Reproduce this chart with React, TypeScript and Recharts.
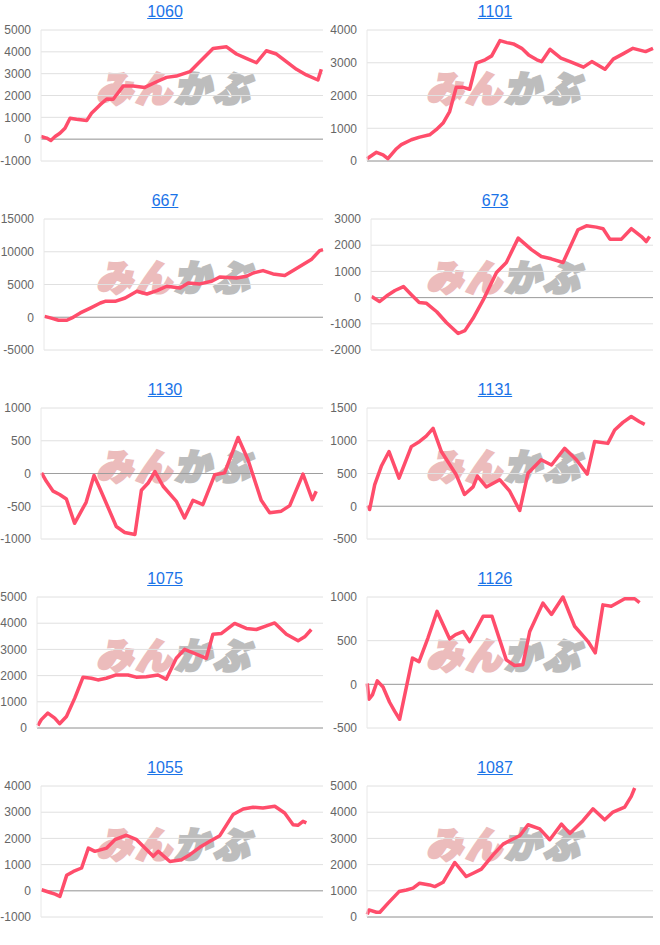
import React from 'react';
import { LineChart, Line, XAxis, YAxis, CartesianGrid, ReferenceLine } from 'recharts';

// session position (0-100) and cumulative value for each code
const X_1060 = [0, 2, 3.5, 5, 6.7, 8.5, 10.3, 12.6, 16.2, 17.9, 20.9, 23.3, 25.6, 29.2, 32.7, 36.8, 41, 44.5, 48, 52.8, 56.3, 61, 65.8, 69.3, 72.8, 76.4, 79.9, 83.5, 87, 90.6, 94.1, 98.2, 99.4];
const Y_1060 = [120, 50, -60, 120, 270, 500, 960, 910, 850, 1190, 1570, 1840, 1830, 2440, 2440, 2370, 2630, 2830, 2890, 3090, 3550, 4150, 4230, 3900, 3700, 3500, 4050, 3900, 3550, 3200, 2940, 2710, 3200];

const X_1101 = [0, 3.3, 5.6, 7.3, 10.3, 12, 15.5, 18.4, 21.9, 24.2, 26.6, 28.9, 31.2, 33.6, 35.9, 38.2, 41.3, 43.6, 46.5, 48.9, 51.2, 54.1, 56.5, 59.4, 61.1, 64, 67.8, 71, 75.7, 78.6, 83.2, 86.1, 89.5, 93, 97.4, 100];
const Y_1101 = [70, 265, 190, 70, 375, 500, 650, 730, 800, 955, 1160, 1510, 2250, 2250, 2190, 2985, 3090, 3210, 3675, 3615, 3575, 3440, 3240, 3090, 3035, 3410, 3140, 3035, 2865, 3035, 2800, 3110, 3270, 3440, 3340, 3440];

const X_667 = [0.2, 2.3, 5.2, 8.2, 10, 13, 16.6, 20.2, 21.9, 25.5, 29.1, 33.3, 36.9, 40.5, 44, 48.8, 51.7, 55.9, 60.1, 63, 69, 72.6, 75, 78.5, 82.1, 86.3, 89.3, 95.8, 98.8, 100];
const Y_667 = [140, -100, -460, -460, -100, 660, 1400, 2180, 2430, 2430, 2940, 3960, 3550, 4060, 4730, 4470, 5230, 5090, 5490, 6150, 6000, 6260, 6760, 7120, 6610, 6360, 7120, 8800, 10180, 10330];

const X_673 = [0.2, 3, 5.5, 8.5, 11.5, 14.4, 17.1, 19.7, 23.3, 26.8, 30.9, 33.3, 36.2, 39.8, 44.5, 48, 52.2, 56.9, 60.4, 63.9, 68.1, 73.4, 76.4, 79.9, 82.3, 84.7, 88.8, 92.3, 95.9, 97.6, 98.8];
const Y_673 = [40, -150, 60, 270, 420, 100, -190, -220, -540, -960, -1370, -1260, -790, -90, 960, 1340, 2270, 1830, 1570, 1480, 1340, 2590, 2740, 2690, 2630, 2230, 2230, 2630, 2330, 2140, 2330];

const X_1130 = [0.2, 1.9, 4.3, 6.6, 9, 11.9, 16, 18.8, 20.8, 23.8, 26.7, 29.7, 33.3, 35.6, 38, 40.4, 43.3, 48, 50.9, 53.9, 57.4, 61.6, 65.1, 69.9, 73.4, 78.1, 81.1, 85.2, 88.2, 92.9, 96.2, 97.6];
const Y_1130 = [10, -120, -270, -320, -390, -760, -440, -30, -220, -520, -810, -900, -930, -255, -145, 30, -195, -425, -680, -410, -475, -20, 10, 550, 210, -410, -600, -575, -490, -10, -400, -270];

const X_1131 = [0.3, 0.9, 2.7, 5, 7.7, 11.2, 15.5, 18.4, 20.7, 23.1, 26, 31.2, 34.1, 37.1, 38.6, 41.7, 46.4, 49.9, 53.4, 56.3, 60.9, 64.5, 69.1, 73.2, 77, 79.6, 84.2, 86.6, 89.5, 92.4, 95.3, 97.1];
const Y_1131 = [10, -50, 330, 610, 835, 430, 910, 990, 1070, 1190, 835, 480, 180, 295, 460, 295, 405, 230, -65, 505, 710, 630, 885, 710, 490, 990, 960, 1165, 1280, 1370, 1290, 1250];

const X_1075 = [0.3, 1.5, 3.8, 6.2, 7.9, 10.3, 13.2, 16.1, 19, 21.3, 24.2, 27.7, 31.8, 34.7, 38.2, 42.3, 45.2, 48.7, 51.6, 55.7, 59.2, 61.5, 64.5, 69.1, 73.2, 76.7, 80.2, 83.1, 87.2, 91.3, 93.6, 95.9];
const Y_1075 = [90, 320, 570, 380, 165, 440, 1140, 1940, 1900, 1835, 1900, 2025, 2025, 1940, 1960, 2025, 1860, 2660, 3000, 2820, 2660, 3580, 3610, 3990, 3800, 3760, 3900, 4010, 3580, 3330, 3480, 3760];

const X_1126 = [0.1, 0.7, 1.9, 3.6, 5.6, 7.9, 9.7, 11.4, 13.8, 15.9, 18.2, 21.3, 24.5, 28.9, 31, 33.6, 35.9, 40.6, 43.7, 48.7, 51.6, 54.5, 56.9, 61.5, 64.5, 68.5, 72.6, 77.3, 79.8, 82.5, 85.4, 90.1, 93.6, 95.3];
const Y_1126 = [10, -170, -120, 40, -30, -205, -310, -400, -25, 300, 260, 530, 835, 520, 570, 605, 490, 780, 780, 280, 215, 225, 605, 930, 800, 1000, 665, 490, 360, 910, 895, 980, 980, 935];

const X_1055 = [0.2, 3.2, 5, 6.7, 9.1, 11.5, 14.4, 16.8, 19.1, 23.3, 26.2, 30.3, 33.9, 39.8, 41.6, 45.7, 49.8, 52.8, 56.3, 59.9, 63.4, 68.1, 71.7, 75.2, 78.7, 82.9, 86.4, 89.4, 91.1, 92.9, 94.1];
const Y_1055 = [40, -65, -130, -215, 590, 740, 870, 1630, 1505, 1630, 1950, 2120, 1950, 1315, 1505, 1120, 1185, 1380, 1660, 1890, 2105, 2910, 3125, 3190, 3160, 3225, 2970, 2520, 2500, 2650, 2590];

const X_1087 = [0.1, 0.7, 3.3, 4.5, 7.3, 11.2, 13.8, 16.1, 18.4, 21.9, 23.7, 26.6, 30.7, 34.7, 37.1, 40, 44.1, 47.6, 50.5, 53.4, 56.3, 60.4, 63.9, 68, 70.9, 75.5, 79, 83.1, 86, 90.1, 92.4, 93.6];
const Y_1087 = [100, 270, 180, 180, 520, 970, 1030, 1100, 1290, 1225, 1160, 1325, 2080, 1545, 1670, 1825, 2370, 2780, 2950, 3100, 3520, 3365, 2950, 3545, 3190, 3675, 4130, 3710, 4005, 4195, 4605, 4925];

const TITLES = ['1060', '1101', '667', '673', '1130', '1131', '1075', '1126', '1055', '1087'];
const XS = [X_1060, X_1101, X_667, X_673, X_1130, X_1131, X_1075, X_1126, X_1055, X_1087];
const YS = [Y_1060, Y_1101, Y_667, Y_673, Y_1130, Y_1131, Y_1075, Y_1126, Y_1055, Y_1087];
const TICKS = [
  [-1000, 0, 1000, 2000, 3000, 4000, 5000],
  [0, 1000, 2000, 3000, 4000],
  [-5000, 0, 5000, 10000, 15000],
  [-2000, -1000, 0, 1000, 2000, 3000],
  [-1000, -500, 0, 500, 1000],
  [-500, 0, 500, 1000, 1500],
  [0, 1000, 2000, 3000, 4000, 5000],
  [-500, 0, 500, 1000],
  [-1000, 0, 1000, 2000, 3000, 4000],
  [0, 1000, 2000, 3000, 4000, 5000],
];

const PANEL_W = 330;
const PANEL_H = 189;
const LINE_COLOR = '#ff4d6b';

// rough Arial 12px width of a tick label
const labelWidth = (n: number) => {
  const s = String(n);
  let w = 0;
  for (const c of s) w += c === '-' ? 4 : 6.67;
  return w;
};

const Panel: React.FC<{ idx: number }> = ({ idx }) => {
  const ticks = TICKS[idx];
  const data = XS[idx].map((x, i) => ({ x, v: YS[idx][i] }));
  const yWidth = Math.ceil(Math.max(...ticks.map(labelWidth))) + 10;

  return (
    <div style={{ position: 'relative', width: PANEL_W, height: PANEL_H }}>
      <div
        style={{
          position: 'absolute',
          top: 3,
          left: 0,
          width: PANEL_W,
          textAlign: 'center',
          fontFamily: 'Arial, "Liberation Sans", sans-serif',
          fontSize: 16,
          lineHeight: '18px',
          color: '#1a73e8',
          textDecoration: 'underline',
        }}
      >
        {TITLES[idx]}
      </div>
      {/* watermark logo */}
      <div
        style={{
          position: 'absolute',
          left: 100,
          top: 68,
          width: 160,
          height: 36,
          fontFamily: '"Noto Sans CJK JP", sans-serif',
          fontWeight: 900,
          fontSize: 36,
          lineHeight: '36px',
          letterSpacing: 3,
          whiteSpace: 'nowrap',
          transform: 'skewX(-12deg)',
        }}
      >
        <span style={{ color: '#ecbcbc', WebkitTextStroke: '3px #ecbcbc' }}>みん</span>
        <span style={{ color: '#bdbdbd', WebkitTextStroke: '3px #bdbdbd' }}>かぶ</span>
      </div>
      <div style={{ position: 'absolute', left: 0, top: 0 }}>
        <LineChart width={PANEL_W} height={PANEL_H} data={data} margin={{ top: 30, right: 7, left: 0, bottom: 28 }}>
          <CartesianGrid vertical={false} stroke="#e0e0e0" />
          <XAxis dataKey="x" type="number" domain={[0, 100]} hide />
          <YAxis
            width={yWidth}
            domain={[ticks[0], ticks[ticks.length - 1]]}
            ticks={ticks}
            interval={0}
            tickLine={false}
            tickSize={0}
            tickMargin={10}
            axisLine={{ stroke: '#e8e8e8' }}
            tick={{ fill: '#666', fontSize: 12, fontFamily: 'Arial, "Liberation Sans", sans-serif' }}
          />
          <ReferenceLine y={0} stroke="#9e9e9e" />
          <Line
            type="linear"
            dataKey="v"
            stroke={LINE_COLOR}
            strokeWidth={3.5}
            strokeLinejoin="round"
            dot={false}
            isAnimationActive={false}
          />
        </LineChart>
      </div>
    </div>
  );
};

export default function App() {
  return (
    <div style={{ position: 'absolute', left: 0, top: 0, width: 660, height: 945, background: '#fff' }}>
      <div style={{ display: 'grid', gridTemplateColumns: `${PANEL_W}px ${PANEL_W}px` }}>
        {TITLES.map((t, i) => (
          <Panel key={t} idx={i} />
        ))}
      </div>
    </div>
  );
}
